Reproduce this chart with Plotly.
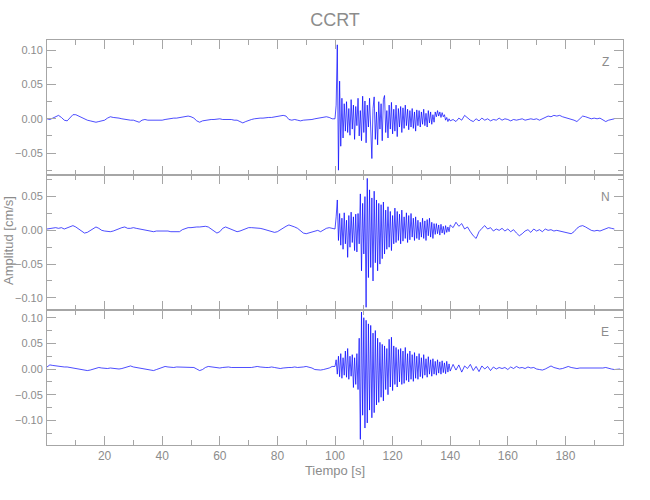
import numpy as np
import plotly.graph_objects as go
from plotly.subplots import make_subplots

STATION = "CCRT"
COMPONENTS = ["Z", "N", "E"]
X_LABEL = "Tiempo [s]"
Y_LABEL = "Amplitud [cm/s]"

PRE_START, PRE_STEP = 0.0, 1.0
EVENT_START, EVENT_STEP = 100.0, 0.4
LATE_START, LATE_STEP = 140.0, 1.0

# Amplitudes in units of 1e-3 cm/s
Z_PRE = [0, -1, 1, 3, 5, 2, -2, -3, 2, 6,
         6, 4, 1, -1, -2, -3, -4, -5, -4, -3,
         -2, 1, 3, 2, 2, 1, 0, -1, -1, -2,
         -2, -3, -5, -2, -1, -2, -2, -3, -3, -3,
         -2, -1, 0, 0, 1, 1, 2, 3, 3, 4,
         3, 1, -3, -5, -3, -2, -2, -1, -1, 0,
         0, -1, -1, 0, -1, -2, -2, -4, -6, -4,
         -2, -1, 0, 1, 1, 1, 2, 2, 2, 3,
         3, 4, 5, 4, -1, -2, -1, -2, -3, -2,
         -2, -1, -1, 0, 1, 1, 2, 3, 2, 0]
Z_EVENT = [0, 20, 108, -75, 55, -40, 30, -28, 22, -18,
           25, -20, 15, -24, 28, -15, 20, -30, 18, -10,
           30, -25, 12, -32, 33, -20, 26, -35, 20, -12,
           30, -25, -58, 15, 32, -30, 10, -38, 25, -15,
           22, -32, 28, 34, -20, 12, -28, 20, -15, 24,
           -22, 14, -18, 20, -26, 15, -12, 18, -20, 16,
           -14, 20, -10, 14, -16, 12, -12, 15, -14, 10,
           -18, 13, -10, 12, -12, 10, -8, 14, -10, 8,
           -12, 12, -6, 10, -8, 6, -5, 10, 3, 12,
           4, 10, 2, 9, 3, 6, -2, 2, -4, 0]
Z_LATE = [-3, -1, -4, 1, -2, 5, 1, -2, -4, 0,
          -3, 1, -2, 0, -3, -1, -2, 1, -2, 0,
          -1, -3, -1, -2, -1, 0, -2, -1, 0, -1,
          0, -2, 0, 1, 4, 3, 5, 4, 5, 3,
          2, 1, 0, -2, -4, 0, 4, 3, 1, 0,
          1, 0, 1, -1, -4, -2, -1, 0]

N_PRE = [2, 3, 3, 4, 3, 4, 2, 4, 6, 7,
         5, 2, -2, -4, -3, 0, 3, 5, 3, 0,
         -1, -2, -2, -1, 1, 2, 4, 5, 3, 3,
         4, 3, 2, 1, 0, -1, -2, -2, -1, -1,
         0, 0, -1, -2, -2, -3, -2, 1, 3, 4,
         4, 5, 5, 5, 6, 6, 5, 2, -2, -4,
         -2, 3, 5, 3, 1, -1, -2, -1, 1, 3,
         4, 4, 4, 4, 3, 2, 1, 0, -1, -3,
         -2, 1, 3, 6, 8, 7, 5, 3, -1, -4,
         -5, -4, -3, -1, 0, -2, 1, 3, 4, 3]
N_EVENT = [2, 20, 45, -15, 25, -22, 18, -28, 26, -20,
           15, -40, 22, -25, 27, -18, 20, -30, 24, -32,
           25, -20, 54, -60, 40, -35, 50, -114, 77, -70,
           60, -55, 48, -75, 58, -48, 45, -60, 40, -50,
           38, -42, 42, -35, 30, -28, 35, -25, 28, -30,
           22, -20, 33, -18, 28, -15, 24, -20, 30, -16,
           20, -12, 26, -18, 22, -14, 25, -10, 18, -15,
           20, -12, 15, -14, 12, -10, 18, -12, 14, -15,
           16, -8, 18, -10, 12, -12, 10, -6, 10, -5,
           8, -7, 9, -4, 6, -6, 7, -3, 5, -2]
N_LATE = [8, 4, 12, 6, 10, 2, 5, -2, -8, -12,
          -2, 3, 7, 2, 4, -1, 2, 0, 3, -1,
          2, -2, 1, -4, -8, -5, -1, 1, -3, 2,
          -1, 1, -2, 2, 0, 1, -1, 0, -1, -2,
          -3, -4, -5, -2, 3, 6, 7, 5, 2, 0,
          -1, 0, -1, 1, 2, 4, 3, 2]

E_PRE = [4, 8, 7, 6, 5, 5, 4, 4, 3, 3,
         2, 0, -1, -2, -3, -2, 0, 2, 3, 2,
         1, 1, 2, 1, 0, 0, 1, 3, 5, 6,
         4, 3, 3, 2, 1, 0, -2, -3, -1, 1,
         3, 5, 4, 3, 3, 4, 4, 4, 4, 4,
         4, 3, 0, -3, -1, 3, 5, 4, 3, 2,
         2, 3, 4, 4, 3, 3, 3, 2, 3, 3,
         3, 3, 4, 5, 4, 3, 3, 3, 4, 3,
         2, 1, 2, 3, 3, 3, 4, 3, 3, 4,
         5, 4, 2, -1, -2, -2, -1, 0, 2, 5]
E_EVENT = [5, 18, -10, 25, -15, 30, -18, 22, -12, 35,
           -16, 40, -20, 25, -14, 28, -36, 22, -30, 30,
           -40, 60, -137, 111, -90, 100, -115, 95, -105, 88,
           -80, 85, -95, 70, -85, 75, -70, 60, -65, 52,
           -55, 48, -62, 45, -40, 40, -50, 58, -35, 62,
           -42, 45, -30, 42, -35, 38, -25, 40, -30, 35,
           -28, 42, -22, 30, -25, 35, -20, 28, -24, 32,
           -18, 25, -20, 30, -15, 22, -18, 28, -12, 20,
           -16, 24, -10, 18, -14, 20, -10, 15, -12, 18,
           -8, 14, -10, 16, -7, 12, -9, 15, -6, 10]
E_LATE = [-4, 9, -2, 8, -6, 6, 1, 9, -3, 5,
          -5, 6, 0, 5, -3, 4, 0, 3, 1, 3,
          -1, 4, 1, 5, 2, 3, 1, 4, 2, 3,
          0, -1, -2, 0, 3, 6, 3, 1, 0, 1,
          3, 5, 3, 2, 1, 2, 2, 1, 2, 1,
          2, 2, 1, 2, 3, 1, 0, -1, -1, 0]

X_TICKS = [20, 40, 60, 80, 100, 120, 140, 160, 180]
Y_RANGES = [[-0.082, 0.115], [-0.118, 0.082], [-0.148, 0.115]]

TRACES = {"Z": (Z_PRE, Z_EVENT, Z_LATE),
          "N": (N_PRE, N_EVENT, N_LATE),
          "E": (E_PRE, E_EVENT, E_LATE)}


def build(pre, event, late):
    t = np.concatenate([PRE_START + PRE_STEP * np.arange(len(pre)),
                        EVENT_START + EVENT_STEP * np.arange(len(event)),
                        LATE_START + LATE_STEP * np.arange(len(late))])
    y = np.concatenate([pre, event, late]) / 1000.0
    return t, y


FONT = "Liberation Sans, Arial, sans-serif"
GREY = "#8c8c8c"
AXIS = "#a6a6a6"

fig = make_subplots(rows=3, cols=1, shared_xaxes=True, vertical_spacing=0)

for i, comp in enumerate(COMPONENTS):
    t, y = build(*TRACES[comp])
    fig.add_trace(go.Scatter(x=t, y=y, mode="lines",
                             line=dict(color="#0000ff", width=0.7),
                             hoverinfo="skip"), row=i + 1, col=1)
    fig.update_yaxes(range=Y_RANGES[i], tick0=0, dtick=0.05, tickformat=".2f",
                     ticks="inside", ticklen=9, tickcolor=AXIS, mirror="ticks",
                     showline=True, linecolor=AXIS, linewidth=1, showgrid=False,
                     zeroline=False, automargin=False, ticklabelstandoff=1,
                     minor=dict(dtick=0.025, tick0=0, ticks="inside", ticklen=5,
                                tickcolor=AXIS, showgrid=False),
                     tickfont=dict(family=FONT, size=11, color=GREY),
                     row=i + 1, col=1)
    fig.update_xaxes(range=[0, 200], tickmode="array", tickvals=X_TICKS,
                     ticks="inside", ticklen=9, tickcolor=AXIS, mirror="ticks",
                     showline=True, linecolor=AXIS, linewidth=1, showgrid=False,
                     zeroline=False, showticklabels=(i == 2), automargin=False,
                     minor=dict(tick0=0, dtick=10, ticks="inside", ticklen=5,
                                tickcolor=AXIS, showgrid=False),
                     tickfont=dict(family=FONT, size=12, color=GREY),
                     row=i + 1, col=1)
    fig.add_annotation(text=comp, xref=f"x{'' if i == 0 else i + 1} domain",
                       yref=f"y{'' if i == 0 else i + 1} domain",
                       x=0.969, y=0.84, xanchor="center", yanchor="middle",
                       showarrow=False,
                       font=dict(family=FONT, size=12, color=GREY))

fig.update_xaxes(title=dict(text=X_LABEL, standoff=0,
                            font=dict(family=FONT, size=13, color=GREY)),
                 row=3, col=1)

fig.add_annotation(text=Y_LABEL, xref="paper", yref="paper",
                   x=-0.068, y=0.506, xanchor="center", yanchor="middle",
                   textangle=-90, showarrow=False,
                   font=dict(family=FONT, size=13, color=GREY))

fig.update_layout(
    width=650, height=500,
    margin=dict(l=47, r=27, t=40, b=55),
    paper_bgcolor="white", plot_bgcolor="white",
    showlegend=False,
    title=dict(text=STATION, x=0.5, xref="paper", y=0.96, yref="container",
               yanchor="middle", xanchor="center",
               font=dict(family=FONT, size=18, color=GREY)),
)

fig.write_html("out.html",
               config={"displayModeBar": False},
               post_script="document.body.style.margin='0';")
